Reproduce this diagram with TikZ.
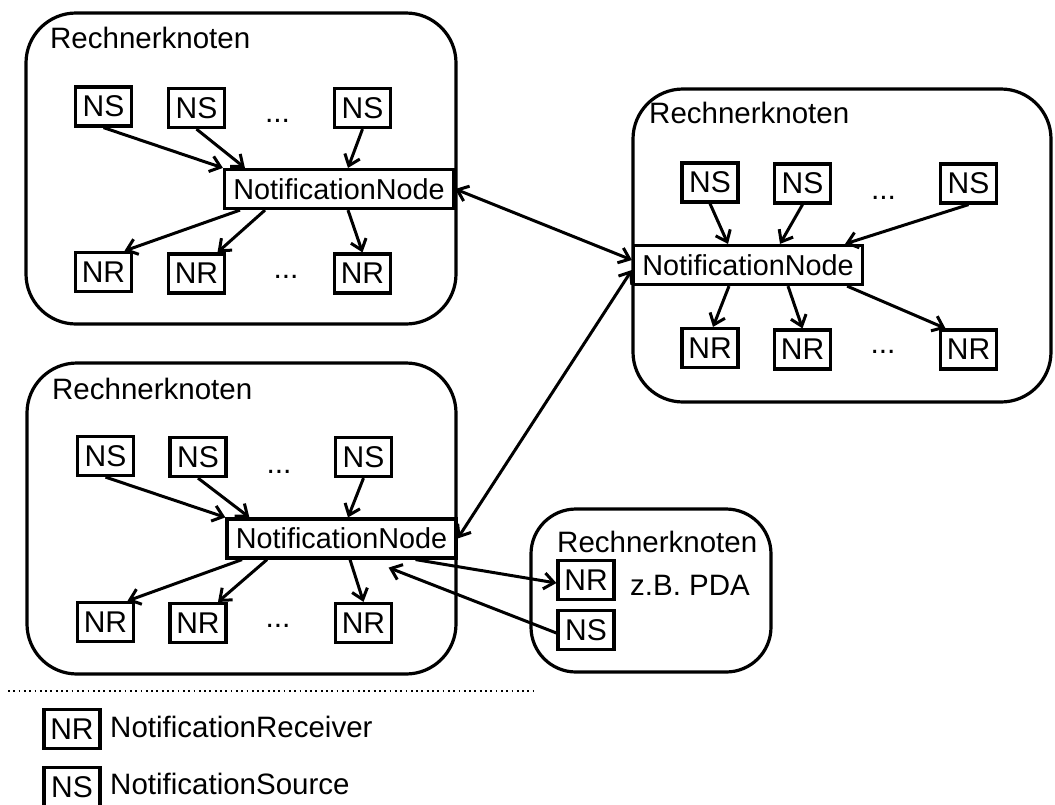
\documentclass[tikz,border=0pt]{standalone}
\usepackage{fontspec}
\setmainfont{Liberation Sans}
\usetikzlibrary{arrows.meta}
\tikzset{
  myb/.tip={Straight Barb[length=10pt,width=16pt]},
  rbox/.style={draw, line width=3.2pt, rounded corners=50pt},
  sbox/.style={draw, line width=3.2pt, minimum width=56pt, minimum height=39pt, inner sep=0pt, font=\fontsize{30}{35}\selectfont},
  nnbox/.style={draw, line width=3.2pt, minimum width=229pt, minimum height=39pt, inner sep=0pt, fill=white, font=\fontsize{28.8}{34}\selectfont},
  lbl/.style={inner sep=0pt, anchor=base west, font=\fontsize{29.5}{35}\selectfont},
  dts/.style={inner sep=0pt, anchor=base, font=\fontsize{30}{35}\selectfont},
  arr/.style={line width=3pt, -myb},
  darr/.style={line width=3pt, myb-myb}
}
\begin{document}
\begin{tikzpicture}[x=1pt,y=-1pt]
\useasboundingbox (0,0) rectangle (1055,804);
% ---------- Box 1 (top left)
\draw[rbox] (26,13) rectangle (456,324);
\node[lbl] (t1) at (50,48) {Rechnerknoten};
\node[sbox] (ns1a) at (103.5,106.5) {NS};
\node[sbox] (ns1b) at (196.5,108) {NS};
\node[sbox] (ns1c) at (362.5,108) {NS};
\node[dts] (d1a) at (277.5,122) {...};
\node[nnbox] (nn1) at (339,189) {NotificationNode};
\node[sbox] (nr1a) at (103.5,272) {NR};
\node[sbox] (nr1b) at (196.5,273.5) {NR};
\node[sbox] (nr1c) at (362.5,273.5) {NR};
\node[dts] (d1b) at (286,278) {...};
\draw[arr] (ns1a.south) -- (nn1.north west);
\draw[arr] (ns1b.south) -- ([xshift=22pt]nn1.north west);
\draw[arr] (ns1c.south) -- ([xshift=9pt]nn1.north);
\draw[arr] ([xshift=-99pt]nn1.south) -- ([xshift=21pt]nr1a.north);
\draw[arr] ([xshift=-74pt]nn1.south) -- ([xshift=21pt]nr1b.north);
\draw[arr] ([xshift=9pt]nn1.south) -- (nr1c.north);
% ---------- Box 2 (right)
\draw[rbox] (633,89) rectangle (1051,402);
\node[lbl] (t2) at (649,123) {Rechnerknoten};
\node[sbox] (ns2a) at (710,182.5) {NS};
\node[sbox] (ns2b) at (802.5,183.5) {NS};
\node[sbox] (ns2c) at (968.5,183.5) {NS};
\node[dts] (d2a) at (883.5,199) {...};
\node[nnbox] (nn2) at (748,265) {NotificationNode};
\node[sbox] (nr2a) at (710,348) {NR};
\node[sbox] (nr2b) at (802.5,349.5) {NR};
\node[sbox] (nr2c) at (968.5,349.5) {NR};
\node[dts] (d2b) at (883,353) {...};
\draw[arr] (ns2a.south) -- ([xshift=-20pt]nn2.north);
\draw[arr] (ns2b.south) -- ([xshift=32pt]nn2.north);
\draw[arr] (ns2c.south) -- ([xshift=-19pt]nn2.north east);
\draw[arr] ([xshift=-19pt]nn2.south) -- ([xshift=3pt]nr2a.north);
\draw[arr] ([xshift=40pt]nn2.south) -- (nr2b.north);
\draw[arr] ([xshift=-17pt]nn2.south east) -- ([xshift=-23pt]nr2c.north);
% ---------- Box 3 (bottom left)
\draw[rbox] (27,363) rectangle (456,674);
\node[lbl] (t3) at (52,399) {Rechnerknoten};
\node[sbox] (ns3a) at (105.5,456) {NS};
\node[sbox] (ns3b) at (198,457) {NS};
\node[sbox] (ns3c) at (363.5,457) {NS};
\node[dts] (d3a) at (279,473) {...};
\node[nnbox] (nn3) at (341.5,538.5) {NotificationNode};
\node[sbox] (nr3a) at (105.5,622) {NR};
\node[sbox] (nr3b) at (198,623) {NR};
\node[sbox] (nr3c) at (363.5,623) {NR};
\node[dts] (d3b) at (278,627) {...};
\draw[arr] (ns3a.south) -- (nn3.north west);
\draw[arr] (ns3b.south) -- ([xshift=24pt]nn3.north west);
\draw[arr] (ns3c.south) -- ([xshift=6.5pt]nn3.north);
\draw[arr] ([xshift=-99.5pt]nn3.south) -- ([xshift=22pt]nr3a.north);
\draw[arr] ([xshift=-74.5pt]nn3.south) -- ([xshift=20pt]nr3b.north);
\draw[arr] ([xshift=8.5pt]nn3.south) -- (nr3c.north);
% ---------- PDA box
\draw[rbox, rounded corners=45pt] (531,509) rectangle (771,672);
\node[lbl] (t4) at (557,552) {Rechnerknoten};
\node[sbox] (pnr) at (586,580) {NR};
\node[sbox] (pns) at (586,630) {NS};
\node[lbl] (pda) at (630,595) {z.B. PDA};
% ---------- links between nodes
\draw[darr] (nn1.east) -- ([yshift=5pt]nn2.west);
\draw[darr] (nn3.east) -- ([yshift=-5pt]nn2.west);
\draw[arr] ([xshift=-42pt]nn3.south east) -- ([yshift=-3pt]pnr.west);
\coordinate (tip3) at ([xshift=-69pt,yshift=-8pt]nn3.south east);
\draw[arr] ([yshift=-3pt]pns.west) -- (tip3);
% ---------- legend
\coordinate (dl) at (8,691);
\coordinate (dr) at (533,691);
\draw[line width=2pt, dash pattern=on 1.8pt off 3.5pt] (dl) -- (dr);
\node[sbox] (lnr) at (72,729) {NR};
\node[lbl] (lnrt) at (110,737) {NotificationReceiver};
\node[sbox] (lns) at (72,787) {NS};
\node[lbl] (lnst) at (110,794) {NotificationSource};
\end{tikzpicture}
\end{document}
